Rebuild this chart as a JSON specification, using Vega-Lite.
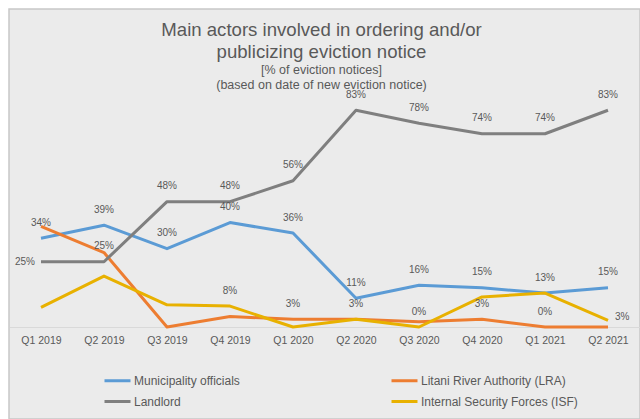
{
  "$schema": "https://vega.github.io/schema/vega-lite/v6.json",
  "width": 631,
  "height": 410,
  "autosize": {"type": "none"},
  "padding": {"left": 9, "top": 9, "right": 0, "bottom": 0},
  "background": "white",
  "config": {
    "font": "Liberation Sans",
    "view": {"fill": "#ebebeb", "stroke": "#c8c8c8", "strokeWidth": 1.5}
  },
  "title": {
    "text": ["Main actors involved in ordering and/or", "publicizing eviction notice"],
    "subtitle": ["[% of eviction notices]", "(based on date of new eviction notice)"],
    "anchor": "middle",
    "frame": "group",
    "dx": -3,
    "fontSize": 18.6,
    "fontWeight": "normal",
    "color": "#595959",
    "lineHeight": 22,
    "subtitleFontSize": 12.5,
    "subtitleColor": "#595959",
    "subtitleLineHeight": 15,
    "subtitlePadding": 2,
    "offset": -82
  },
  "data": {
    "values": [
      {"quarter": "Q1 2019", "series": "Municipality officials", "value": 34, "label": "34%"},
      {"quarter": "Q2 2019", "series": "Municipality officials", "value": 39, "label": "39%"},
      {"quarter": "Q3 2019", "series": "Municipality officials", "value": 30, "label": "30%"},
      {"quarter": "Q4 2019", "series": "Municipality officials", "value": 40, "label": "40%"},
      {"quarter": "Q1 2020", "series": "Municipality officials", "value": 36, "label": "36%"},
      {"quarter": "Q2 2020", "series": "Municipality officials", "value": 11, "label": "11%"},
      {"quarter": "Q3 2020", "series": "Municipality officials", "value": 16, "label": "16%"},
      {"quarter": "Q4 2020", "series": "Municipality officials", "value": 15, "label": "15%"},
      {"quarter": "Q1 2021", "series": "Municipality officials", "value": 13, "label": "13%"},
      {"quarter": "Q2 2021", "series": "Municipality officials", "value": 15, "label": "15%"},
      {"quarter": "Q1 2019", "series": "Litani River Authority (LRA)", "value": 38.5, "label": null},
      {"quarter": "Q2 2019", "series": "Litani River Authority (LRA)", "value": 28.5, "label": null},
      {"quarter": "Q3 2019", "series": "Litani River Authority (LRA)", "value": 0, "label": null},
      {"quarter": "Q4 2019", "series": "Litani River Authority (LRA)", "value": 4, "label": null},
      {"quarter": "Q1 2020", "series": "Litani River Authority (LRA)", "value": 3, "label": "3%"},
      {"quarter": "Q2 2020", "series": "Litani River Authority (LRA)", "value": 3, "label": "3%"},
      {"quarter": "Q3 2020", "series": "Litani River Authority (LRA)", "value": 2, "label": null},
      {"quarter": "Q4 2020", "series": "Litani River Authority (LRA)", "value": 3, "label": "3%"},
      {"quarter": "Q1 2021", "series": "Litani River Authority (LRA)", "value": 0, "label": "0%"},
      {"quarter": "Q2 2021", "series": "Litani River Authority (LRA)", "value": 0, "label": null},
      {"quarter": "Q1 2019", "series": "Landlord", "value": 25, "label": "25%"},
      {"quarter": "Q2 2019", "series": "Landlord", "value": 25, "label": "25%"},
      {"quarter": "Q3 2019", "series": "Landlord", "value": 48, "label": "48%"},
      {"quarter": "Q4 2019", "series": "Landlord", "value": 48, "label": "48%"},
      {"quarter": "Q1 2020", "series": "Landlord", "value": 56, "label": "56%"},
      {"quarter": "Q2 2020", "series": "Landlord", "value": 83, "label": "83%"},
      {"quarter": "Q3 2020", "series": "Landlord", "value": 78, "label": "78%"},
      {"quarter": "Q4 2020", "series": "Landlord", "value": 74, "label": "74%"},
      {"quarter": "Q1 2021", "series": "Landlord", "value": 74, "label": "74%"},
      {"quarter": "Q2 2021", "series": "Landlord", "value": 83, "label": "83%"},
      {"quarter": "Q1 2019", "series": "Internal Security Forces (ISF)", "value": 7.5, "label": null},
      {"quarter": "Q2 2019", "series": "Internal Security Forces (ISF)", "value": 19.5, "label": null},
      {"quarter": "Q3 2019", "series": "Internal Security Forces (ISF)", "value": 8.5, "label": null},
      {"quarter": "Q4 2019", "series": "Internal Security Forces (ISF)", "value": 8, "label": "8%"},
      {"quarter": "Q1 2020", "series": "Internal Security Forces (ISF)", "value": 0, "label": null},
      {"quarter": "Q2 2020", "series": "Internal Security Forces (ISF)", "value": 3, "label": null},
      {"quarter": "Q3 2020", "series": "Internal Security Forces (ISF)", "value": 0, "label": "0%"},
      {"quarter": "Q4 2020", "series": "Internal Security Forces (ISF)", "value": 11.5, "label": null},
      {"quarter": "Q1 2021", "series": "Internal Security Forces (ISF)", "value": 13, "label": null},
      {"quarter": "Q2 2021", "series": "Internal Security Forces (ISF)", "value": 2.5, "label": "3%"}
    ]
  },
  "encoding": {
    "x": {
      "field": "quarter",
      "type": "ordinal",
      "sort": null,
      "scale": {"type": "point", "padding": 0.5, "range": [0.5, 630.5]},
      "axis": {
        "title": null,
        "orient": "bottom",
        "offset": -92,
        "domainColor": "#d9d9d9",
        "domainWidth": 1,
        "ticks": false,
        "grid": false,
        "labelAngle": 0,
        "labelFontSize": 10.5,
        "labelColor": "#595959",
        "labelPadding": 8
      }
    },
    "y": {
      "field": "value",
      "type": "quantitative",
      "scale": {"domain": [0, 90], "range": [318, 83]},
      "axis": null
    }
  },
  "layer": [
    {
      "mark": {"type": "line", "strokeWidth": 3, "strokeJoin": "round"},
      "encoding": {
        "color": {
          "field": "series",
          "type": "nominal",
          "scale": {
            "domain": ["Municipality officials", "Litani River Authority (LRA)", "Landlord", "Internal Security Forces (ISF)"],
            "range": ["#5B9BD5", "#ED7D31", "#7F7F7F", "#E8B100"]
          },
          "legend": {
            "title": null,
            "orient": "none",
            "direction": "horizontal",
            "legendX": 94,
            "legendY": 357,
            "columns": 2,
            "padding": 0,
            "columnPadding": 145,
            "rowPadding": -6,
            "symbolType": "stroke",
            "symbolSize": 676,
            "symbolStrokeWidth": 3,
            "labelFontSize": 12,
            "labelColor": "#595959",
            "labelOffset": 2
          }
        }
      }
    },
    {
      "transform": [{"filter": "datum.label != null && !(datum.series == 'Landlord' && datum.quarter == 'Q1 2019') && !(datum.series == 'Internal Security Forces (ISF)' && datum.quarter == 'Q2 2021')"}],
      "mark": {"type": "text", "dy": -15.5, "baseline": "middle", "fontSize": 10, "color": "#595959"},
      "encoding": {"text": {"field": "label"}}
    },
    {
      "transform": [{"filter": "datum.series == 'Landlord' && datum.quarter == 'Q1 2019'"}],
      "mark": {"type": "text", "dx": -6, "align": "right", "baseline": "middle", "fontSize": 10, "color": "#595959"},
      "encoding": {"text": {"field": "label"}}
    },
    {
      "transform": [{"filter": "datum.series == 'Internal Security Forces (ISF)' && datum.quarter == 'Q2 2021'"}],
      "mark": {"type": "text", "dx": 7, "dy": -3, "align": "left", "baseline": "middle", "fontSize": 10, "color": "#595959"},
      "encoding": {"text": {"field": "label"}}
    }
  ]
}
